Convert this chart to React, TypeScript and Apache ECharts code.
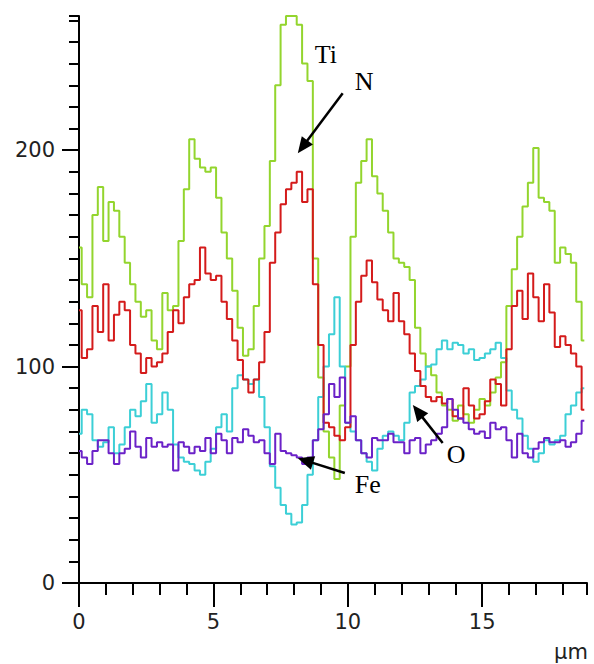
import React, { useEffect, useRef } from "react";
import * as echarts from "echarts";

// Sampling step along the scan (μm)
const X_STEP = 0.2;

// Ti (green) counts
const tiValues = [
  155, 138, 132, 170, 183, 158, 176, 172, 160, 148,
  138, 130, 123, 126, 112, 108, 134, 126, 128, 158,
  182, 205, 196, 192, 190, 192, 178, 162, 150, 135,
  118, 105, 108, 128, 150, 165, 195, 230, 258, 262,
  262, 258, 240, 232, 150, 95, 70, 58, 48, 82,
  100, 160, 185, 195, 205, 188, 180, 172, 162, 150,
  148, 146, 140, 118, 106, 100, 96, 88, 82, 80,
  75, 82, 78, 74, 80, 85, 82, 88, 95, 102,
  128, 145, 160, 174, 185, 201, 178, 176, 172, 148,
  155, 152, 148, 130, 112,
];

// N (red) counts
const nValues = [
  126, 104, 108, 128, 116, 138, 112, 124, 130, 126,
  110, 106, 97, 104, 100, 102, 106, 116, 126, 120,
  132, 138, 140, 155, 143, 140, 142, 130, 122, 112,
  103, 94, 88, 94, 102, 116, 148, 162, 175, 182,
  185, 190, 176, 182, 138, 110, 74, 72, 68, 66,
  72, 110, 130, 142, 149, 139, 131, 126, 121, 134,
  121, 115, 106, 98, 91, 86, 84, 86, 83, 85,
  77, 76, 90, 82, 76, 78, 84, 94, 92, 82,
  108, 128, 135, 122, 143, 132, 121, 138, 125, 109,
  114, 110, 106, 100, 80,
];

// O (cyan) counts
const oValues = [
  69, 80, 78, 66, 63, 65, 72, 60, 64, 72,
  80, 77, 84, 92, 74, 78, 88, 80, 64, 58,
  56, 55, 52, 50, 56, 62, 72, 78, 70, 90,
  96, 94, 92, 94, 86, 72, 54, 44, 36, 32,
  27, 28, 36, 50, 66, 86, 100, 115, 132, 100,
  74, 70, 66, 60, 56, 52, 62, 68, 70, 68,
  66, 74, 88, 91, 94, 100, 101, 108, 112, 108,
  111, 110, 106, 108, 103, 104, 106, 108, 111, 104,
  89, 80, 76, 68, 62, 56, 60, 66, 64, 66,
  68, 78, 82, 88, 90,
];

// Fe (purple) counts
const feValues = [
  61, 58, 55, 61, 66, 66, 60, 55, 60, 62,
  70, 63, 58, 67, 63, 65, 63, 64, 52, 65,
  63, 60, 63, 61, 67, 60, 69, 66, 60, 67,
  65, 71, 68, 65, 66, 60, 55, 69, 61, 60,
  59, 58, 55, 58, 66, 71, 78, 92, 86, 95,
  74, 77, 66, 60, 58, 67, 66, 66, 69, 65,
  65, 60, 66, 67, 60, 64, 66, 69, 72, 85,
  80, 76, 74, 71, 69, 70, 67, 74, 71, 72,
  66, 58, 69, 60, 58, 62, 65, 67, 65, 65,
  66, 63, 65, 69, 75,
];

const xTickLabels = [0, 5, 10, 15];
const yTickLabels = [0, 100, 200];

const X_MAX = 18.9;
const Y_MAX = 262;

// Annotations in data coordinates: label anchor (left, cap middle), arrow tail -> tip
const annotations = [
  { label: "Ti", lx: 8.77, ly: 244.3, arrow: null },
  { label: "N", lx: 10.26, ly: 231.9, arrow: { sx: 9.81, sy: 226.3, tx: 8.14, ty: 198.6 } },
  { label: "O", lx: 13.68, ly: 59.6, arrow: { sx: 13.53, sy: 64.7, tx: 12.42, ty: 82.2 } },
  { label: "Fe", lx: 10.26, ly: 45.7, arrow: { sx: 9.89, sy: 50.8, tx: 8.14, ty: 57.7 } },
];

const seriesDefs = [
  { name: "Ti", values: tiValues, color: "#93d52e" },
  { name: "O", values: oValues, color: "#3ccfd6" },
  { name: "N", values: nValues, color: "#d41b1b" },
  { name: "Fe", values: feValues, color: "#6b22c8" },
];

const LABEL_FONT = "DejaVu Sans";

export default function App() {
  const ref = useRef<HTMLDivElement>(null);

  useEffect(() => {
    if (!ref.current) return;
    const chart = echarts.init(ref.current, null, { renderer: "svg" });

    const xs = tiValues.map((_, i) => Math.round(i * X_STEP * 10) / 10);

    const axisLineStyle = { color: "#000", width: 2 };

    const option: any = {
      animation: false,
      backgroundColor: "#ffffff",
      grid: { left: 79, right: 7, top: 16, bottom: 81 },
      xAxis: [
        {
          type: "value",
          min: 0,
          max: X_MAX,
          interval: 5,
          position: "bottom",
          axisLine: { show: true, lineStyle: axisLineStyle },
          axisTick: { show: true, length: 24, lineStyle: { color: "#000", width: 2 } },
          axisLabel: {
            margin: 28,
            fontSize: 21,
            fontFamily: LABEL_FONT,
            color: "#222",
            showMaxLabel: false,
            formatter: (v: number) => (xTickLabels.includes(v) ? String(v) : ""),
          },
          splitLine: { show: false },
        },
        {
          type: "value",
          min: 0,
          max: X_MAX,
          interval: 1,
          position: "bottom",
          axisLine: { show: false },
          axisTick: { show: true, length: 12, lineStyle: { color: "#000", width: 2 } },
          axisLabel: { show: false },
          splitLine: { show: false },
        },
      ],
      yAxis: [
        {
          type: "value",
          min: 0,
          max: Y_MAX,
          interval: 100,
          position: "left",
          axisLine: { show: true, lineStyle: axisLineStyle },
          axisTick: { show: true, length: 17, lineStyle: { color: "#000", width: 2 } },
          axisLabel: {
            margin: 24,
            fontSize: 21,
            fontFamily: LABEL_FONT,
            color: "#222",
            showMaxLabel: false,
            formatter: (v: number) => (yTickLabels.includes(v) ? String(v) : ""),
          },
          splitLine: { show: false },
        },
        {
          type: "value",
          min: 0,
          max: Y_MAX,
          interval: 10,
          position: "left",
          axisLine: { show: false },
          axisTick: { show: true, length: 10, lineStyle: { color: "#000", width: 2 } },
          axisLabel: { show: false },
          splitLine: { show: false },
        },
      ],
      series: seriesDefs.map((s) => ({
        name: s.name,
        type: "line",
        step: "middle",
        xAxisIndex: 0,
        yAxisIndex: 0,
        showSymbol: false,
        symbol: "none",
        data: s.values.map((v, i) => [xs[i], v]),
        lineStyle: { color: s.color, width: 2 },
        itemStyle: { color: s.color },
      })),
    };

    chart.setOption(option);

    const toPx = (x: number, y: number) =>
      chart.convertToPixel({ xAxisIndex: 0, yAxisIndex: 0 }, [x, y]) as number[];

    const graphics: any[] = [];
    annotations.forEach((a) => {
      const [lx, ly] = toPx(a.lx, a.ly);
      graphics.push({
        type: "text",
        x: lx,
        y: ly,
        z: 100,
        style: {
          text: a.label,
          fill: "#000",
          fontSize: 26,
          fontFamily: "Liberation Serif",
          textAlign: "left",
          textVerticalAlign: "middle",
        },
      });
      if (a.arrow) {
        const [sx, sy] = toPx(a.arrow.sx, a.arrow.sy);
        const [tx, ty] = toPx(a.arrow.tx, a.arrow.ty);
        const dx = tx - sx;
        const dy = ty - sy;
        const len = Math.sqrt(dx * dx + dy * dy);
        const ux = dx / len;
        const uy = dy / len;
        const nx = -uy;
        const ny = ux;
        const L = 16;
        const W = 7;
        const bx = tx - ux * L;
        const by = ty - uy * L;
        graphics.push({
          type: "line",
          z: 100,
          shape: { x1: sx, y1: sy, x2: bx + ux * 2, y2: by + uy * 2 },
          style: { stroke: "#000", lineWidth: 2.5 },
        });
        graphics.push({
          type: "polygon",
          z: 100,
          shape: {
            points: [
              [tx, ty],
              [bx + nx * W, by + ny * W],
              [bx - nx * W, by - ny * W],
            ],
          },
          style: { fill: "#000" },
        });
      }
    });
    graphics.push({
      type: "text",
      x: 571,
      y: 652,
      z: 100,
      style: {
        text: "μm",
        fill: "#222",
        fontSize: 21,
        fontFamily: LABEL_FONT,
        textAlign: "center",
        textVerticalAlign: "middle",
      },
    });
    chart.setOption({ graphic: graphics });

    return () => {
      chart.dispose();
    };
  }, []);

  return (
    <div
      ref={ref}
      style={{ position: "absolute", left: 0, top: 0, width: 594, height: 664, background: "#fff" }}
    />
  );
}
